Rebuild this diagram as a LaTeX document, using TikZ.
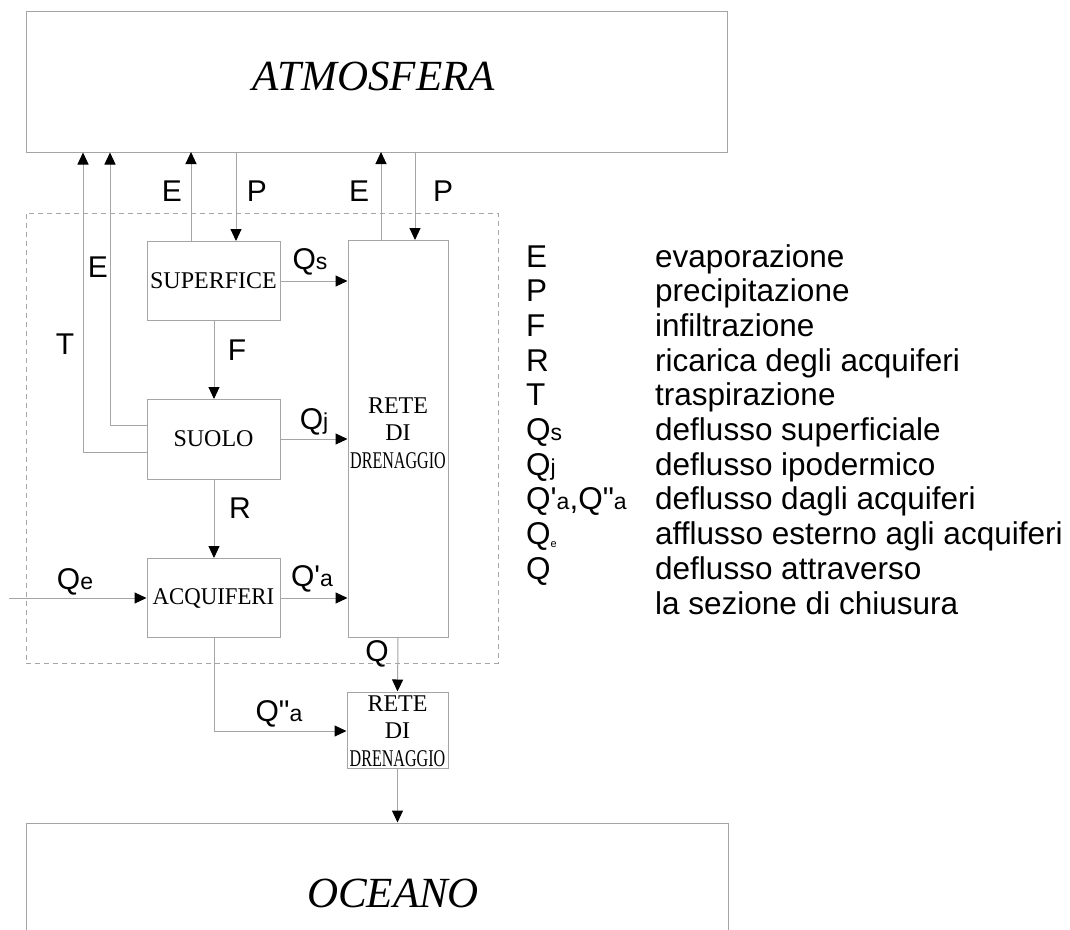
\documentclass[tikz,border=0pt]{standalone}
\usepackage{fontspec}
\setmainfont{Liberation Serif}
\newfontfamily\arialf{Liberation Sans}
\usetikzlibrary{arrows.meta}
\definecolor{linegray}{RGB}{165,165,165}
\tikzset{
  box/.style={draw=linegray, line width=1pt, minimum width=133pt, minimum height=79pt, inner sep=0pt},
  boxtext/.style={font=\fontsize{24}{27.5}\selectfont, align=center, inner sep=0pt},
  bigtext/.style={font=\fontsize{43}{43}\selectfont\itshape, inner sep=0pt},
  lbl/.style={font=\arialf\fontsize{30}{30}\selectfont, inner sep=0pt},
  leg/.style={font=\arialf\fontsize{31.5}{31.5}\selectfont, inner sep=0pt, anchor=base west},
  flow/.style={draw=linegray, line width=1pt, -{Triangle[length=12pt,width=11pt,color=black]}},
}
\newcommand{\smq}[1]{{\fontsize{23}{23}\selectfont #1}}
\begin{document}
\begin{tikzpicture}[x=1pt,y=-1pt]
\useasboundingbox (0,0) rectangle (1070,929);
% big boxes
\node[draw=linegray, line width=1pt, minimum width=701pt, minimum height=141pt, inner sep=0pt] (atm) at (376.5,81.5) {};
\node[bigtext] (atmtext) at (374,76) {ATMOSFERA};
\node[draw=linegray, line width=1pt, minimum width=702pt, minimum height=140pt, inner sep=0pt] (oce) at (377,893) {};
\node[bigtext] (ocetext) at (393,893) {OCEANO};
% dashed system boundary
\node[draw=linegray, line width=1pt, dashed, dash pattern=on 5pt off 4pt, minimum width=472pt, minimum height=450pt, inner sep=0pt] (sys) at (262,438) {};
% inner boxes
\node[box] (sup) at (213.5,280.5) {};
\node[boxtext] (suptext) at (213.5,281) {SUPERFICE};
\node[box, minimum height=80pt] (suo) at (213.5,439) {};
\node[boxtext] (suotext) at (213.5,439) {SUOLO};
\node[box] (acq) at (213.5,597.5) {};
\node[boxtext] (acqtext) at (213.5,598) {\scalebox{0.95}[1]{ACQUIFERI}};
\node[box, minimum width=100pt, minimum height=397pt] (rete) at (398,438.5) {};
\node[boxtext] (retetext) at (398,433) {RETE\\DI\\\scalebox{0.67}[1]{DRENAGGIO}};
\node[box, minimum width=101pt, minimum height=76pt] (rete2) at (397.5,730) {};
\node[boxtext] (rete2text) at (397.5,731) {RETE\\DI\\\scalebox{0.67}[1]{DRENAGGIO}};
% coordinates
\coordinate (qein) at (9,598);
\coordinate (tb) at (83,452);
\coordinate (eb) at (110,425);
\coordinate (qab) at (214,731);
% flows to atmosphere
\draw[flow] (suo.west |- tb) -- (tb) -- (tb |- atm.south);
\draw[flow] (suo.west |- eb) -- (eb) -- (eb |- atm.south);
\draw[flow] (191,241) -- (191,152);
\draw[flow] (236,152) -- (236,241);
\draw[flow] (381,240) -- (381,152);
\draw[flow] (415,152) -- (415,240);
% horizontal flows
\draw[flow] (sup.east |- 0,281) -- (rete.west |- 0,281);
\draw[flow] (suo.east) -- (rete.west |- suo.east);
\draw[flow] (acq.east |- 0,598) -- (rete.west |- 0,598);
\draw[flow] (qein) -- (acq.west |- qein);
% vertical flows
\draw[flow] (214,320) -- (214,399);
\draw[flow] (214,479) -- (214,558);
\draw[flow] (rete.south) -- (rete2.north);
\draw[flow] (214,637) -- (qab) -- (rete2.west |- qab);
\draw[flow] (rete2.south) -- (rete2.south |- oce.north);
% labels
\node[lbl] (lE1) at (172,191) {E};
\node[lbl] (lP1) at (257,191) {P};
\node[lbl] (lE2) at (359,191) {E};
\node[lbl] (lP2) at (443,191) {P};
\node[lbl] (lE3) at (98,267) {E};
\node[lbl] (lT) at (65,344) {T};
\node[lbl] (lF) at (237,350) {F};
\node[lbl] (lR) at (240,508) {R};
\node[lbl] (lQs) at (310,262) {Q\smq{s}};
\node[lbl] (lQj) at (314,422) {Q\smq{j}};
\node[lbl] (lQa1) at (312,579) {Q'\smq{a}};
\node[lbl] (lQe) at (75,582) {Q\smq{e}};
\node[lbl] (lQ) at (377,654) {Q};
\node[lbl] (lQa2) at (279,714) {Q"\smq{a}};
% legend
\foreach \i/\s/\d in {0/E/evaporazione,1/P/precipitazione,2/F/infiltrazione,3/R/ricarica degli acquiferi,4/T/traspirazione,5/Q\smq{s}/deflusso superficiale,6/Q\smq{j}/deflusso ipodermico,7/{Q'\smq{a},Q"\smq{a}}/deflusso dagli acquiferi,8/Q\raisebox{-3pt}{\fontsize{11}{11}\selectfont e}/afflusso esterno agli acquiferi,9/Q/deflusso attraverso}{
  \node[leg] (ls\i) at (526,{267+34.7*\i}) {\s};
  \node[leg] (ld\i) at (655,{267+34.7*\i}) {\d};
}
\node[leg] (ld10) at (655,{267+34.7*10}) {la sezione di chiusura};
\end{tikzpicture}
\end{document}
